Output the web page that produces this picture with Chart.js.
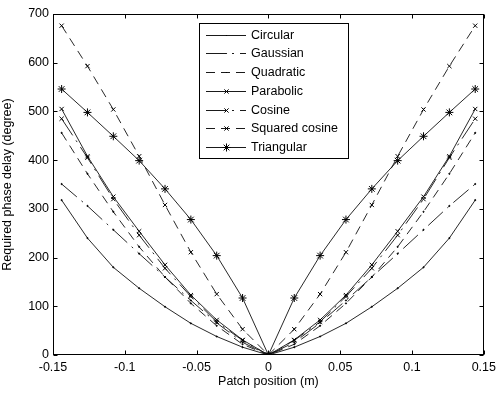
<!DOCTYPE html>
<html lang="en">
<head>
<meta charset="UTF-8" />
<title>Required phase delay</title>
<script src="https://cdn.jsdelivr.net/npm/chart.js"></script>
<style>
  body { margin: 0; background: #fff; }
</style>
</head>
<body>
<canvas id="chart" width="501" height="394"></canvas>
<script>
// patch positions (m)
var positions = [-0.144, -0.126, -0.108, -0.09, -0.072, -0.054, -0.036, -0.018, 0,
                 0.018, 0.036, 0.054, 0.072, 0.09, 0.108, 0.126, 0.144];

// required phase delay (degree)
var circular     = [318, 240, 180, 137, 99, 65, 38, 16, 0, 16, 38, 65, 99, 137, 180, 240, 318];
var gaussian     = [351, 306, 257, 208, 160, 112, 66, 26, 0, 26, 66, 112, 160, 208, 257, 306, 351];
var quadratic    = [456, 372, 294, 222, 160, 106, 60, 22, 0, 22, 60, 106, 160, 222, 294, 372, 456];
var parabolic    = [505, 408, 325, 254, 185, 123, 72, 31, 0, 31, 72, 123, 185, 254, 325, 408, 505];
var cosine       = [485, 405, 320, 246, 178, 120, 68, 30, 0, 30, 68, 120, 178, 246, 320, 405, 485];
var squaredCos   = [676, 593, 504, 408, 308, 211, 125, 53, 0, 53, 125, 211, 308, 408, 504, 593, 676];
var triangular   = [546, 498, 449, 399, 341, 278, 204, 117, 0, 117, 204, 278, 341, 399, 449, 498, 546];

var seriesNames  = ['Circular', 'Gaussian', 'Quadratic', 'Parabolic', 'Cosine', 'Squared cosine', 'Triangular'];
var seriesValues = [circular, gaussian, quadratic, parabolic, cosine, squaredCos, triangular];

var xTicks = [-0.15, -0.1, -0.05, 0, 0.05, 0.1, 0.15];
var yTicks = [0, 100, 200, 300, 400, 500, 600, 700];

// line styles: solid, dash-dot, dashed; markers: dot, x, star
var DASH = [9, 6];
var DASHDOT = [20, 6, 2, 6];
var styles = [
  { dash: [],      marker: 'circle',   r: 0.6 },
  { dash: DASHDOT, marker: 'circle',   r: 0.6 },
  { dash: DASH,    marker: 'circle',   r: 0.6 },
  { dash: [],      marker: 'crossRot', r: 3 },
  { dash: DASHDOT, marker: 'crossRot', r: 3 },
  { dash: DASH,    marker: 'crossRot', r: 3 },
  { dash: [],      marker: 'star',     r: 4 }
];

var FONT = { family: '"Liberation Sans", Arial, sans-serif', size: 12.5 };

var datasets = seriesNames.map(function (name, i) {
  return {
    label: name,
    data: positions.map(function (x, j) { return { x: x, y: seriesValues[i][j] }; }),
    borderColor: '#111',
    backgroundColor: '#111',
    borderWidth: 0.9,
    borderDash: styles[i].dash,
    pointStyle: styles[i].marker,
    pointRadius: styles[i].r,
    pointBorderWidth: 1,
    pointBorderColor: '#000',
    pointBackgroundColor: '#000',
    tension: 0,
    fill: false
  };
});

function marker(ctx, style, r, x, y) {
  ctx.beginPath();
  if (style === 'circle') {
    ctx.arc(x, y, r, 0, Math.PI * 2);
    ctx.fill();
    return;
  }
  var d = r * Math.SQRT1_2;
  ctx.moveTo(x - d, y - d); ctx.lineTo(x + d, y + d);
  ctx.moveTo(x - d, y + d); ctx.lineTo(x + d, y - d);
  if (style === 'star') {
    ctx.moveTo(x - r, y); ctx.lineTo(x + r, y);
    ctx.moveTo(x, y - r); ctx.lineTo(x, y + r);
  }
  ctx.stroke();
}

var frame = {
  id: 'frame',
  afterDatasetsDraw: function (chart) {
    var ctx = chart.ctx, a = chart.chartArea;
    var sx = chart.scales.x, sy = chart.scales.y;
    var L = Math.round(a.left) + 0.5, R = Math.round(a.right) - 0.5;
    var T = Math.round(a.top) + 0.5, B = Math.round(a.bottom) - 0.5;
    var tl = 4;
    ctx.save();
    ctx.strokeStyle = '#000';
    ctx.fillStyle = '#000';
    ctx.lineWidth = 1;
    ctx.setLineDash([]);
    ctx.strokeRect(L, T, R - L, B - T);
    ctx.beginPath();
    sx.ticks.forEach(function (t) {
      var px = Math.round(sx.getPixelForValue(t.value)) + 0.5;
      ctx.moveTo(px, B); ctx.lineTo(px, B - tl);
      ctx.moveTo(px, T); ctx.lineTo(px, T + tl);
    });
    sy.ticks.forEach(function (t) {
      var py = Math.round(sy.getPixelForValue(t.value)) + 0.5;
      ctx.moveTo(L, py); ctx.lineTo(L + tl, py);
      ctx.moveTo(R, py); ctx.lineTo(R - tl, py);
    });
    ctx.stroke();

    // legend box
    var bx = 199.5, by = 23.5, bw = 149, bh = 135;
    ctx.fillStyle = '#fff';
    ctx.fillRect(bx, by, bw, bh);
    ctx.strokeRect(bx, by, bw, bh);
    ctx.font = FONT.size + 'px ' + FONT.family;
    ctx.textBaseline = 'middle';
    chart.data.datasets.forEach(function (ds, i) {
      var y = Math.round(34.5 + i * 18.75) + 0.5;
      ctx.strokeStyle = '#000';
      ctx.fillStyle = '#000';
      ctx.lineWidth = 0.9;
      ctx.setLineDash(ds.borderDash);
      ctx.beginPath();
      ctx.moveTo(206, y); ctx.lineTo(246, y);
      ctx.stroke();
      ctx.setLineDash([]);
      ctx.lineWidth = 1;
      marker(ctx, ds.pointStyle, ds.pointRadius, 226.5, y);
      ctx.fillText(ds.label, 251, y);
    });
    ctx.restore();
  }
};

new Chart(document.getElementById('chart').getContext('2d'), {
  type: 'line',
  data: { datasets: datasets },
  options: {
    responsive: false,
    animation: false,
    events: [],
    layout: { padding: { top: 14, right: 12, left: 0, bottom: 0 } },
    plugins: { legend: { display: false }, tooltip: { enabled: false } },
    scales: {
      x: {
        type: 'linear',
        min: -0.15,
        max: 0.15,
        afterBuildTicks: function (s) { s.ticks = xTicks.map(function (v) { return { value: v }; }); },
        afterFit: function (s) { s.height = 39; },
        grid: { display: false, drawTicks: false },
        border: { display: false },
        ticks: {
          color: '#000',
          font: FONT,
          padding: 5,
          maxRotation: 0,
          autoSkip: false,
          callback: function (v) { return String(+v.toFixed(2)); }
        },
        title: { display: true, text: 'Patch position (m)', color: '#000', font: FONT, padding: { top: 0, bottom: 5 } }
      },
      y: {
        type: 'linear',
        min: 0,
        max: 700,
        afterBuildTicks: function (s) { s.ticks = yTicks.map(function (v) { return { value: v }; }); },
        afterFit: function (s) { s.width = 53; },
        grid: { display: false, drawTicks: false },
        border: { display: false },
        ticks: { color: '#000', font: FONT, padding: 4, autoSkip: false },
        title: { display: true, text: 'Required phase delay (degree)', color: '#000', font: FONT, padding: { top: 0, bottom: 4 } }
      }
    }
  },
  plugins: [frame]
});
</script>
</body>
</html>
